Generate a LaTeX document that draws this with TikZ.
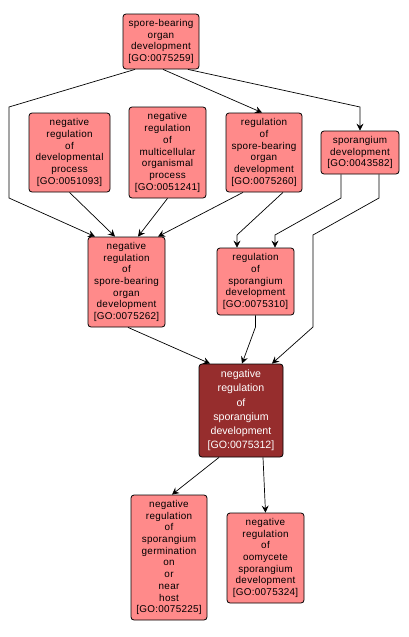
\documentclass[tikz,border=0pt]{standalone}
\usepackage{fontspec}
\newfontfamily\lblfont[LetterSpace=3]{Liberation Sans}
\newfontfamily\darkfont{Liberation Sans}
\usetikzlibrary{arrows.meta,calc}
\definecolor{pale}{RGB}{255,138,138}
\definecolor{deep}{RGB}{150,45,45}
\tikzset{
  goterm/.style={draw=black, line width=0.8pt, rounded corners=3pt, fill=pale,
    align=center, inner sep=0pt, font=\lblfont\fontsize{9.9}{11.7}\selectfont},
  goterm dark/.style={goterm, fill=deep, text=white, font=\darkfont\fontsize{10.6}{14.2}\selectfont},
  edge/.style={draw=black, line width=0.7pt, -{Stealth[length=7pt,width=7pt,inset=2.5pt]}},
}
\begin{document}
\begin{tikzpicture}[x=1pt,y=-1pt]
\useasboundingbox[fill=white] (0,0) rectangle (409,637);
\node[goterm, minimum width=76pt, minimum height=55pt] (n259) at (161,41.5) {spore-bearing\\organ\\development\\{[GO:0075259]}};
\node[goterm, minimum width=81pt, minimum height=79pt] (n093) at (69.5,152.5) {negative\\regulation\\of\\developmental\\process\\{[GO:0051093]}};
\node[goterm, minimum width=77pt, minimum height=91pt] (n241) at (167.5,152.5) {negative\\regulation\\of\\multicellular\\organismal\\process\\{[GO:0051241]}};
\node[goterm, minimum width=76pt, minimum height=79pt] (n260) at (264,152.5) {regulation\\of\\spore-bearing\\organ\\development\\{[GO:0075260]}};
\node[goterm, minimum width=78pt, minimum height=43pt] (n582) at (360,152.5) {sporangium\\development\\{[GO:0043582]}};
\node[goterm, minimum width=77pt, minimum height=90pt] (n262) at (126.5,282) {negative\\regulation\\of\\spore-bearing\\organ\\development\\{[GO:0075262]}};
\node[goterm, minimum width=77pt, minimum height=67pt] (n310) at (255.5,281.5) {regulation\\of\\sporangium\\development\\{[GO:0075310]}};
\node[goterm dark, minimum width=84pt, minimum height=93pt] (n312) at (241,410.5) {negative\\regulation\\of\\sporangium\\development\\{[GO:0075312]}};
\node[goterm, minimum width=76pt, minimum height=125pt] (n225) at (169,557.5) {negative\\regulation\\of\\sporangium\\germination\\on\\or\\near\\host\\{[GO:0075225]}};
\node[goterm, minimum width=77pt, minimum height=90pt] (n324) at (265.5,558) {negative\\regulation\\of\\oomycete\\sporangium\\development\\{[GO:0075324]}};

\draw[edge] ([xshift=-26pt]n259.south) -- (9,107) -- (9,198) -- ([xshift=-31.5pt]n262.north);
\draw[edge] ([xshift=2pt]n259.south) -- ([xshift=-2pt]n260.north);
\draw[edge] ([xshift=27pt]n259.south) -- (360,107) -- (n582.north);
\draw[edge] (n093.south) -- ([xshift=-11.5pt]n262.north);
\draw[edge] (n241.south) -- ([xshift=11.5pt]n262.north);
\draw[edge] ([xshift=-21pt]n260.south) -- ([xshift=31.5pt]n262.north);
\draw[edge] ([xshift=19pt]n260.south) -- (237,235) -- ([xshift=-18.5pt]n310.north);
\draw[edge] ([xshift=-19pt]n582.south) -- (341,198) -- (275,235) -- ([xshift=19.5pt]n310.north);
\draw[edge] ([xshift=19pt]n582.south) -- (379,198) -- (313,235) -- (313,327) -- ([xshift=31pt]n312.north);
\draw[edge] ([xshift=1.5pt]n262.south) -- ([xshift=-31pt]n312.north);
\draw[edge] (n310.south) -- (255.5,327) -- ([xshift=1pt]n312.north);
\draw[edge] ([xshift=-22pt]n312.south) -- ([xshift=3pt]n225.north);
\draw[edge] ([xshift=22pt]n312.south) -- (n324.north);
\end{tikzpicture}
\end{document}
